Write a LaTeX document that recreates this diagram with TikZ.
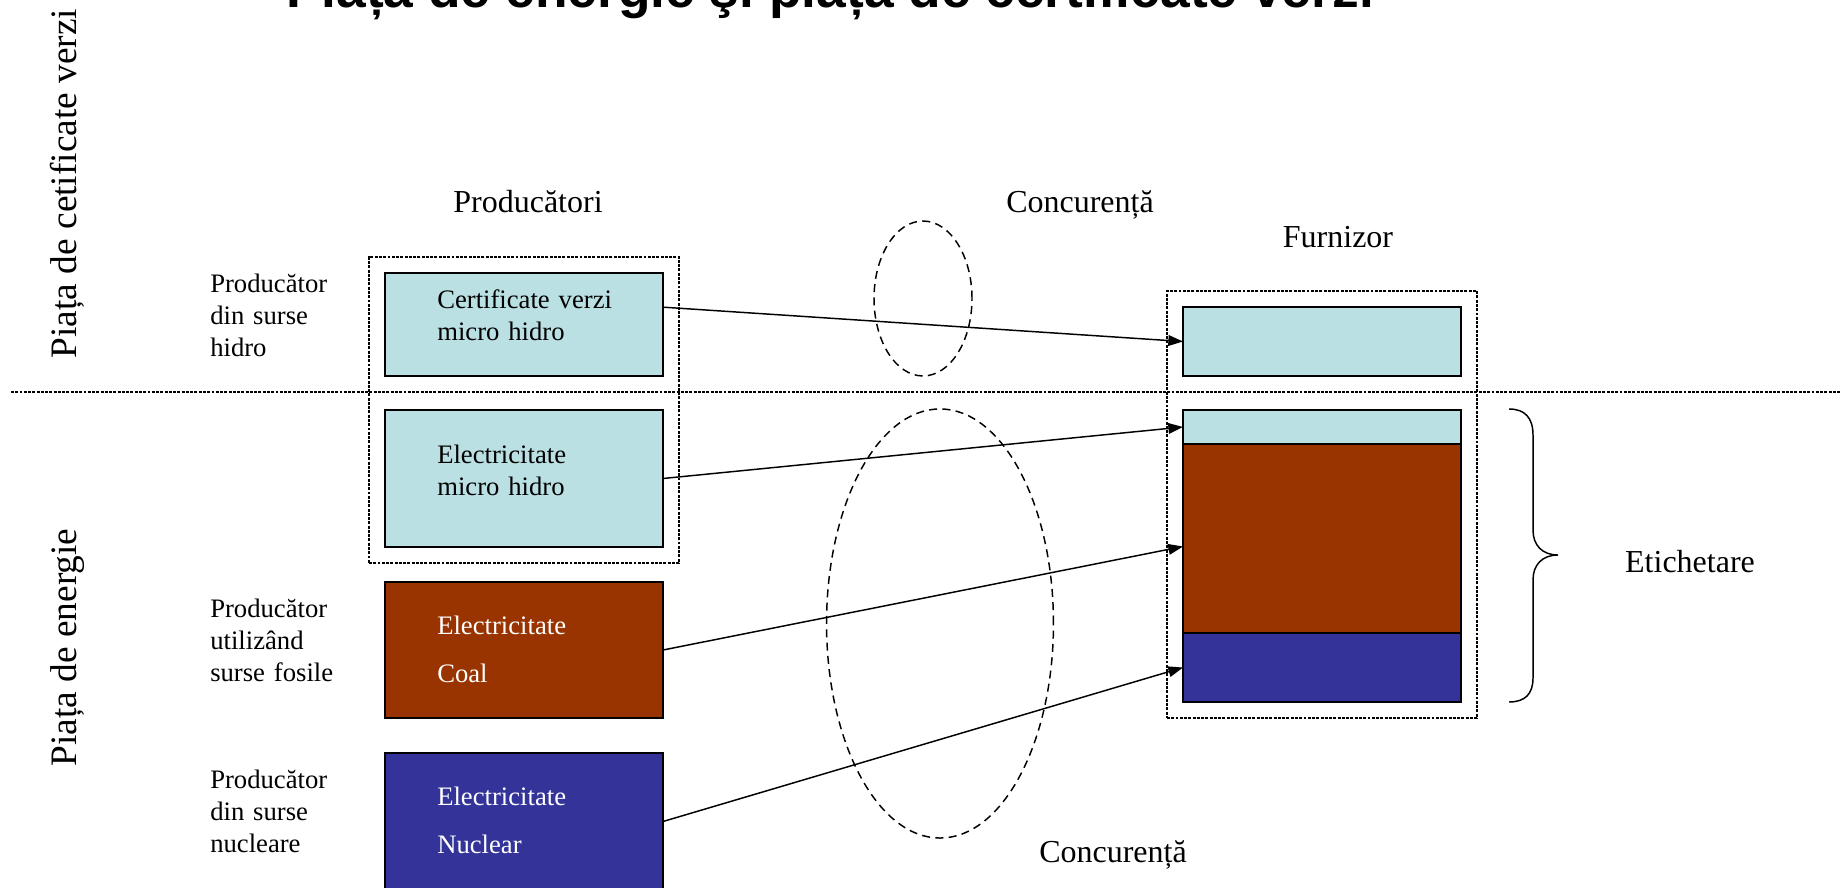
\documentclass[tikz,border=0pt]{standalone}
\usepackage{fontspec}
\setmainfont{Liberation Serif}
\newfontfamily\titlefont{Liberation Sans}
\usetikzlibrary{arrows.meta,fit}

\definecolor{hidroblue}{RGB}{187,224,227}
\definecolor{coalbrown}{RGB}{153,51,0}
\definecolor{nuclblue}{RGB}{51,51,153}

\begin{document}
\begin{tikzpicture}[x=0.75pt,y=-0.75pt]
    \tikzset{
    prod/.style={draw,line width=1.4pt,minimum width=208.5pt,inner sep=0pt,outer sep=0pt},
    lbl/.style={anchor=base west,align=left,text width=120pt,inner sep=0pt,font=\fontsize{20}{24}\selectfont},
    btxt/.style={lbl,text width=150pt},
    hdr/.style={anchor=base,inner sep=0pt,font=\fontsize{24}{29}\selectfont},
    side/.style={anchor=base,rotate=90,inner sep=0pt,font=\fontsize{28}{34}\selectfont},
    grp/.style={draw,line width=1.1pt,dash pattern=on 2.2pt off 1pt,inner sep=12pt},
    conc/.style={draw,line width=1.1pt,dash pattern=on 6pt off 4pt},
    flow/.style={line width=1.1pt,-{Triangle[length=11pt,width=8pt]}},
    }
    \useasboundingbox (0,0) rectangle (1841,888);
    \clip (0,0) rectangle (1841,888);

    \node[anchor=base,inner sep=0pt,font=\fontsize{40}{48}\selectfont\titlefont\bfseries] (ttl) at (830,8) {Piața de energie şi piața de certificate verzi};

    \node[side] (vcert) at (76,183.5) {Piața de cetificate verzi};
    \node[side] (venerg) at (76,647.5) {Piața de energie};
    \draw[line width=1.1pt,dash pattern=on 2.2pt off 1pt] (11,392) -- (1841,392);

    \node[hdr] (hprod) at (528,212) {Producători};
    \node[hdr] (hconc) at (1080,212) {Concurență};
    \node[hdr] (hfurn) at (1338,247) {Furnizor};
    \node[hdr] (heti) at (1690,572) {Etichetare};
    \node[hdr] (hconc2) at (1113,862) {Concurență};

    \node[lbl] (lhidro) at (210,292) {Producător\\din surse\\hidro};
    \node[lbl] (lfosil) at (210,617) {Producător\\utilizând\\surse fosile};
    \node[lbl] (lnucl) at (210,788) {Producător\\din surse\\nucleare};

    % producatori
    \node[prod,fill=hidroblue,minimum height=77.25pt] (cv) at (524,324.5) {};
    \node[prod,fill=hidroblue,minimum height=102.75pt] (eh) at (524,478.5) {};
    \node[prod,fill=coalbrown,minimum height=102pt] (ec) at (524,650) {};
    \node[prod,fill=nuclblue,minimum height=102.75pt] (en) at (524,821.5) {};
    \node[grp,fit=(cv)(eh)] (gprod) {};

    \node[btxt] (tcv) at (437,308) {Certificate verzi\\micro hidro};
    \node[btxt] (teh) at (437,463) {Electricitate\\micro hidro};
    \node[btxt,text=white] (tec) at (437,634) {Electricitate\\[12pt]Coal};
    \node[btxt,text=white] (ten) at (437,805) {Electricitate\\[12pt]Nuclear};

    % furnizor
    \node[prod,fill=hidroblue,minimum height=51.75pt] (fcv) at (1322,341.5) {};
    \node[prod,fill=hidroblue,minimum height=25.5pt] (fh) at (1322,427) {};
    \node[prod,fill=coalbrown,minimum height=141.75pt] (fc) at (1322,538.5) {};
    \node[prod,fill=nuclblue,minimum height=51.75pt] (fn) at (1322,667.5) {};
    \node[grp,fit=(fcv)(fn)] (gfurn) {};

    \draw[conc] (923,298.5) ellipse [x radius=36.75pt,y radius=58.1pt];
    \draw[conc] (940,623.5) ellipse [x radius=85.1pt,y radius=160.9pt];

    \draw[flow] ([yshift=13pt]cv.east) -- (fcv.west);
    \draw[flow] (eh.east) -- (fh.west);
    \draw[flow] (ec.east) -- ([yshift=-6pt]fc.west);
    \draw[flow] (en.east) -- (fn.west);

    % acolada
    \draw[line width=1.1pt] (1509,409) .. controls (1525,409) and (1533,418) .. (1533,435) -- (1533,530)
        .. controls (1533,545) and (1542,555) .. (1558,555) .. controls (1542,555) and (1533,565) .. (1533,580)
        -- (1533,678) .. controls (1533,694) and (1525,702) .. (1509,702);
\end{tikzpicture}
\end{document}
